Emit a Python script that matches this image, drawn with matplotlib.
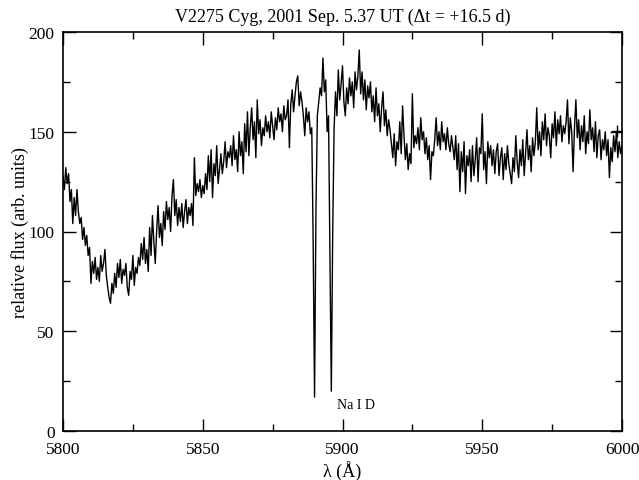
import numpy as np
import matplotlib
matplotlib.use("Agg")
import matplotlib.pyplot as plt
from matplotlib.ticker import MultipleLocator

wl_start = 5800.0
wl_step = 0.5
flux = [
    128, 121, 132, 124, 129, 115, 121, 104, 117, 108, 121, 110, 104, 107, 96, 102, 93, 98, 88, 92,
    74, 85, 79, 87, 76, 82, 75, 88, 80, 84, 91, 78, 72, 67, 64, 74, 69, 79, 72, 84,
    77, 86, 74, 81, 78, 84, 72, 68, 80, 76, 88, 73, 82, 79, 87, 83, 94, 86, 97, 84,
    91, 80, 102, 88, 108, 95, 84, 100, 113, 97, 104, 93, 110, 101, 115, 106, 112, 100, 118, 126,
    108, 116, 103, 112, 105, 114, 102, 110, 116, 104, 112, 108, 114, 103, 137, 118, 124, 120, 126, 117,
    123, 119, 129, 121, 138, 125, 141, 117, 134, 128, 143, 124, 131, 139, 129, 135, 145, 132, 140, 137,
    143, 133, 148, 136, 141, 130, 150, 138, 145, 129, 154, 140, 160, 138, 152, 162, 146, 155, 137, 166,
    149, 156, 143, 152, 148, 158, 150, 155, 147, 160, 153, 146, 157, 151, 162, 155, 159, 150, 163, 156,
    158, 166, 142, 164, 171, 160, 168, 175, 178, 163, 170, 165, 158, 148, 162, 155, 160, 149, 152, 95,
    17, 110, 158, 165, 172, 168, 187, 170, 176, 150, 158, 90, 20, 100, 152, 170, 158, 181, 166, 174,
    183, 165, 158, 172, 164, 177, 168, 175, 162, 180, 171, 178, 191, 169, 180, 166, 176, 161, 173, 167,
    175, 160, 168, 155, 172, 158, 164, 150, 162, 170, 153, 161, 148, 156, 151, 144, 137, 149, 133, 145,
    141, 155, 139, 163, 148, 136, 144, 131, 139, 134, 169, 142, 148, 144, 152, 141, 157, 146, 150, 139,
    147, 136, 143, 126, 140, 138, 146, 157, 143, 150, 141, 155, 145, 149, 141, 152, 144, 140, 148, 142,
    136, 148, 131, 144, 120, 140, 130, 145, 119, 138, 133, 141, 125, 143, 128, 136, 147, 125, 142, 139,
    159, 131, 140, 124, 145, 137, 143, 133, 141, 129, 140, 144, 128, 137, 142, 126, 139, 131, 143, 134,
    129, 124, 137, 130, 148, 135, 127, 141, 133, 146, 128, 139, 151, 136, 143, 130, 147, 138, 145, 162,
    141, 150, 138, 155, 146, 159, 143, 152, 148, 137, 154, 147, 160, 143, 156, 149, 158, 145, 153, 149,
    155, 166, 144, 157, 150, 130, 152, 166, 147, 156, 141, 153, 145, 158, 139, 150, 144, 161, 146, 152,
    140, 155, 137, 148, 151, 136, 146, 141, 150, 138, 146, 127, 142, 135, 148, 140, 150, 137, 145, 139,
    143,
]
wavelength = wl_start + wl_step * np.arange(len(flux))

# stray "+" mark near the right edge
cross_x = [5998.2]
cross_y = [150.5]

title = "V2275 Cyg, 2001 Sep. 5.37 UT (\u0394t = +16.5 d)"
label_text = "Na I D"
label_pos = (5898.0, 13.5)

plt.rcParams['font.family'] = ['Liberation Serif', 'DejaVu Serif']

fig = plt.figure(figsize=(6.39, 4.81), dpi=100)
ax = fig.add_axes([63 / 639, 49 / 481, 559 / 639, 399 / 481])

ax.plot(wavelength, flux, color='black', lw=1.0)
ax.plot(cross_x, cross_y, marker='+', color='black', ms=8, mew=1.0, ls='none')
ax.text(label_pos[0], label_pos[1], label_text, fontsize=10, ha='left', va='center')

ax.set_xlim(5800, 6000)
ax.set_ylim(0, 200)
ax.xaxis.set_major_locator(MultipleLocator(50))
ax.xaxis.set_minor_locator(MultipleLocator(25))
ax.yaxis.set_major_locator(MultipleLocator(50))
ax.yaxis.set_minor_locator(MultipleLocator(25))
ax.tick_params(which='both', direction='in', top=True, right=True, labelsize=12.5, width=1.0)
ax.tick_params(which='major', length=9)
ax.tick_params(which='minor', length=5)
ax.tick_params(axis='x', which='major', pad=7)
ax.tick_params(axis='y', which='major', pad=6)
for s in ax.spines.values():
    s.set_linewidth(1.2)

ax.set_title(title, fontsize=13, pad=8)
ax.set_xlabel("\u03bb (\u00c5)", fontsize=13)
ax.xaxis.set_label_coords(0.5, -0.072)
ax.set_ylabel("relative flux (arb. units)", fontsize=13, labelpad=0)

fig.savefig("out.png", dpi=100)
